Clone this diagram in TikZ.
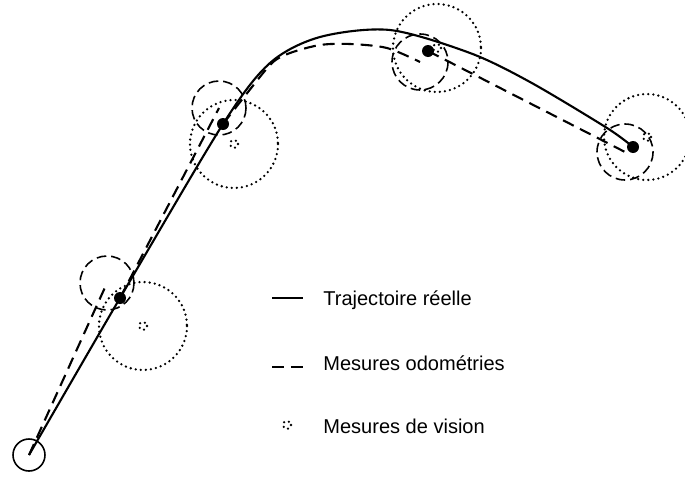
\documentclass[tikz,border=0pt]{standalone}
\usepackage{fontspec}
\setmainfont{Liberation Sans}
\usetikzlibrary{positioning}
\tikzset{
    trajet reel/.style={line width=1.2pt, black},
    trajet odo/.style={line width=1.2pt, black, dash pattern=on 6.8pt off 4pt},
    cercle odo/.style={line width=0.9pt, dash pattern=on 5.5pt off 2.8pt},
    cercle vision/.style={line width=1.45pt, line cap=round, dash pattern=on 0pt off 2.9pt},
    cercle depart/.style={line width=0.9pt},
    legende/.style={font=\fontsize{11.4}{13.7}\selectfont, inner sep=0pt, anchor=base west},
}

\begin{document}
\begin{tikzpicture}[x=0.02cm, y=-0.02cm]
\useasboundingbox (0,0) rectangle (685,477);
\coordinate (s) at (29,455);
\coordinate (p1) at (120,298);
\coordinate (p2) at (223,124);
\coordinate (p3) at (428,51);
\coordinate (p4) at (633,147);
\coordinate (o1) at (107,283);
\coordinate (o2) at (219,108);
\coordinate (o3) at (420,62);
\coordinate (o4) at (625,152);
\coordinate (v1) at (143,326);
\coordinate (v2) at (234,144);
\coordinate (v3) at (437,48);
\coordinate (v4) at (647,137);
% incertitudes
\foreach \x in {v1,v2,v3} \draw[cercle vision] (\x) circle[radius=44];
\draw[cercle vision] (v4) circle[radius=43];
\foreach \x in {v1,v2,v3,v4} \draw[cercle vision] (\x) circle[radius=4];
\foreach \x in {o1,o2} \draw[cercle odo] (\x) circle[radius=27];
\foreach \x in {o3,o4} \draw[cercle odo] (\x) circle[radius=28];
\draw[cercle depart] (s) circle[radius=16];
% trajectoire
\draw[trajet reel] plot[smooth] coordinates {(s) (p1) (p2) (270,63) (320,37) (390,30) (470,53) (530,82) (607,128) (p4)};
% odometrie
\draw[trajet odo] (s) -- (o1);
\draw[trajet odo] (p1) -- (o2);
\draw[trajet odo] plot[smooth] coordinates {(p2) (248,92) (272,63) (290,53) (320,45) (350,44) (387,48) (o3)};
\draw[trajet odo] (p3) -- (o4);
\foreach \x in {p1,p2,p3,p4} \fill (\x) circle[radius=6];
% legende
\node[legende] (l1) at (323,305) {Trajectoire réelle};
\node[legende] (l2) at (323,370) {Mesures odométries};
\node[legende] (l3) at (323,433) {Mesures de vision};
\draw[trajet reel] (272,298) -- (303,298);
\draw[trajet odo] (272,367) -- (303,367);
\draw[cercle vision] (287,425) circle[radius=4];
\end{tikzpicture}
\end{document}
